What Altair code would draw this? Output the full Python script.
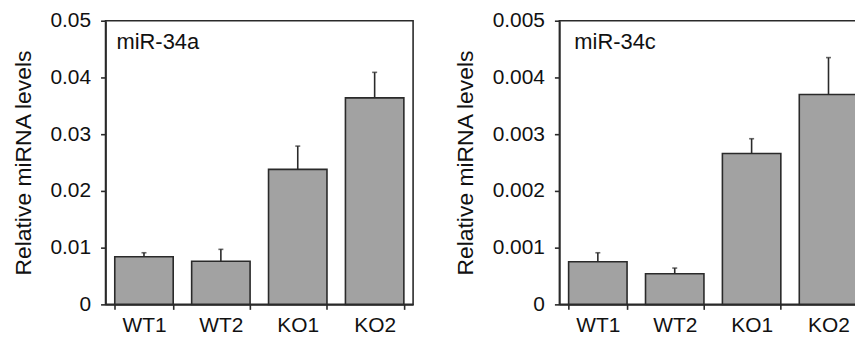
import altair as alt
import pandas as pd

categories = ["WT1", "WT2", "KO1", "KO2"]

mir34a_values = [0.0084, 0.0076, 0.0238, 0.0364]
mir34a_errors = [0.0007, 0.0021, 0.0041, 0.0045]
mir34a_ticks = [0, 0.01, 0.02, 0.03, 0.04, 0.05]

mir34c_values = [0.00075, 0.00054, 0.00266, 0.0037]
mir34c_errors = [0.00016, 0.0001, 0.00026, 0.00065]
mir34c_ticks = [0, 0.001, 0.002, 0.003, 0.004, 0.005]

FONT = "Liberation Sans"
DARK = "#2a2a2a"
TEXT = "#111111"


def panel(values, errors, ticks, label, label_x):
    df = pd.DataFrame({"cat": categories, "value": values, "err": errors})
    base = alt.Chart(df).transform_calculate(upper="datum.value + datum.err")
    x = alt.X(
        "cat:N",
        sort=categories,
        scale=alt.Scale(paddingInner=0.24, paddingOuter=0.12),
        axis=alt.Axis(title=None, tickBand="extent", labelAngle=0,
                      labelFontSize=21, labelPadding=5),
    )
    y = alt.Y(
        "value:Q",
        scale=alt.Scale(domain=[0, ticks[-1]], nice=False, zero=True),
        axis=alt.Axis(values=ticks, format="~g", title="Relative miRNA levels",
                      titleFontSize=23, titleFontWeight="normal", titlePadding=15,
                      labelFontSize=21, labelPadding=10),
    )
    bars = base.mark_bar(fill="#a2a2a2", stroke=DARK, strokeWidth=1.6).encode(x=x, y=y)
    rules = base.mark_rule(color=DARK, strokeWidth=1.6).encode(
        x=alt.X("cat:N", sort=categories), y="value:Q", y2="upper:Q")
    caps = base.mark_tick(color=DARK, size=5, thickness=1.6).encode(
        x=alt.X("cat:N", sort=categories), y="upper:Q")
    text = alt.Chart(pd.DataFrame({"t": [label]})).mark_text(
        align="left", baseline="alphabetic", fontSize=22, font=FONT, color=TEXT
    ).encode(x=alt.value(label_x), y=alt.value(28), text="t:N")
    return alt.layer(bars, rules, caps, text).properties(width=309, height=285)


left = panel(mir34a_values, mir34a_errors, mir34a_ticks, "miR-34a", 11)
right = panel(mir34c_values, mir34c_errors, mir34c_ticks, "miR-34c", 15)

chart = alt.hconcat(left, right, spacing=39).properties(
    padding={"left": 3, "top": 0, "right": -13, "bottom": 0}
).configure_view(
    stroke=DARK, strokeWidth=1.6
).configure_axis(
    grid=False, domainColor=DARK, domainWidth=1.6, tickColor=DARK, tickWidth=1.6,
    tickSize=5, labelFont=FONT, titleFont=FONT, labelColor=TEXT,
    titleColor=TEXT
)

chart.save("out.html", embed_options={"renderer": "svg", "actions": False})
